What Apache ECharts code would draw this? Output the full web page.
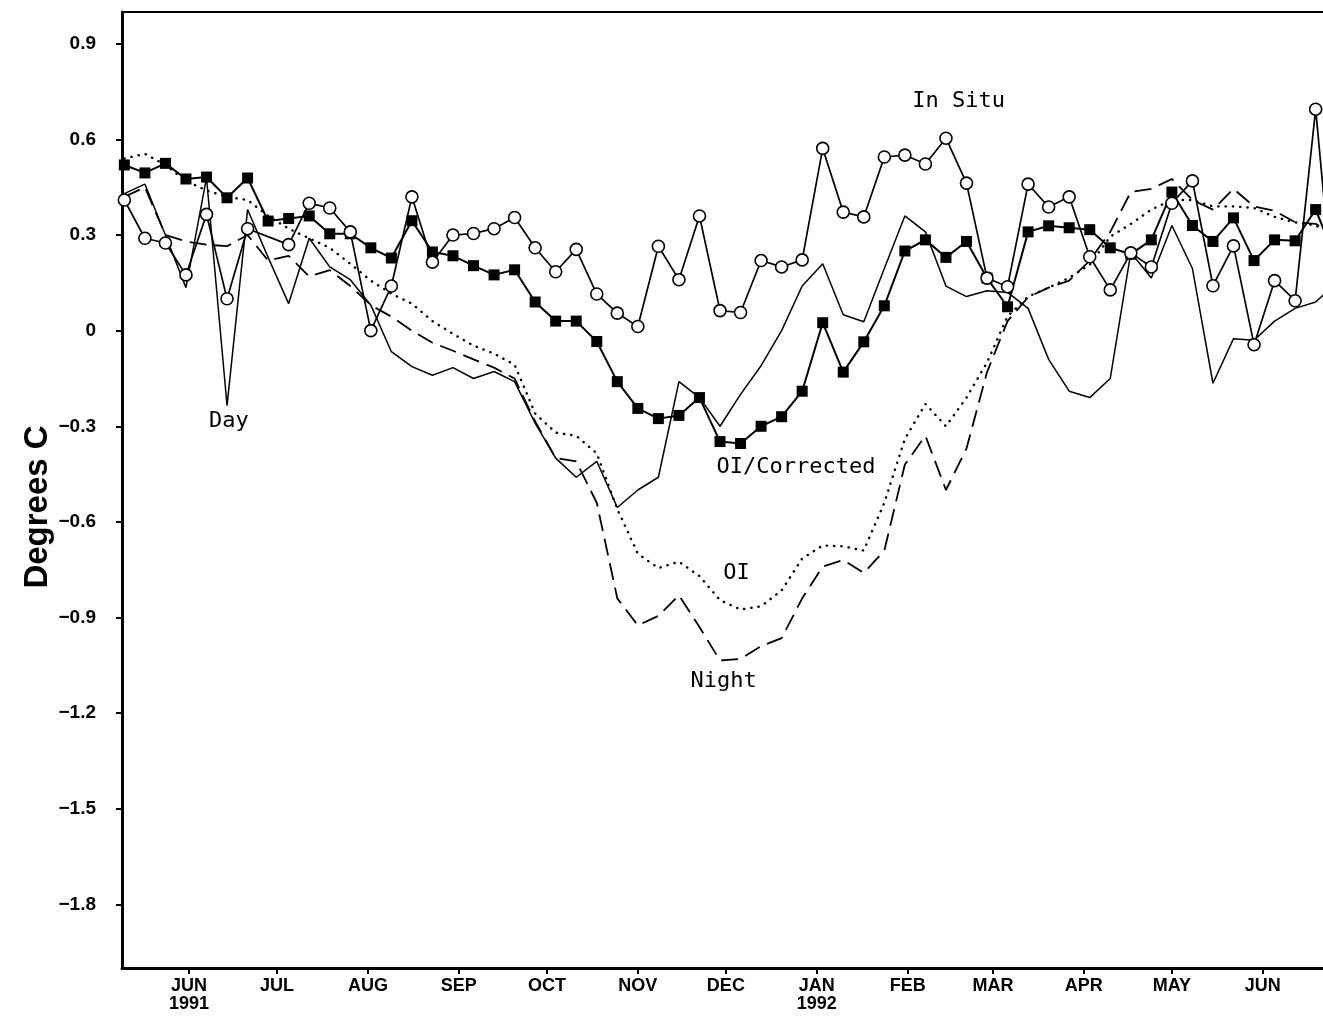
<!DOCTYPE html>
<html><head><meta charset="utf-8">
<script src="https://cdn.jsdelivr.net/npm/echarts@6/dist/echarts.min.js"></script>
<style>html,body{margin:0;padding:0;background:#fff}#c{width:1323px;height:1019px}</style>
</head><body><div id="c"></div>
<script>
// Weekly sample dates
const weekDates = [
'1991-05-10','1991-05-17','1991-05-24','1991-05-31','1991-06-07','1991-06-14','1991-06-21','1991-06-28',
'1991-07-05','1991-07-12','1991-07-19','1991-07-26','1991-08-02','1991-08-09','1991-08-16','1991-08-23','1991-08-30',
'1991-09-06','1991-09-13','1991-09-20','1991-09-27','1991-10-04','1991-10-11','1991-10-18','1991-10-25',
'1991-11-01','1991-11-08','1991-11-15','1991-11-22','1991-11-29','1991-12-06','1991-12-13','1991-12-20','1991-12-27',
'1992-01-03','1992-01-10','1992-01-17','1992-01-24','1992-01-31','1992-02-07','1992-02-14','1992-02-21','1992-02-28',
'1992-03-06','1992-03-13','1992-03-20','1992-03-27','1992-04-03','1992-04-10','1992-04-17','1992-04-24',
'1992-05-01','1992-05-08','1992-05-15','1992-05-22','1992-05-29','1992-06-05','1992-06-12','1992-06-19','1992-06-26'];
const monthTicks = ['1991-06-01','1991-07-01','1991-08-01','1991-09-01','1991-10-01','1991-11-01','1991-12-01',
'1992-01-01','1992-02-01','1992-03-01','1992-04-01','1992-05-01','1992-06-01'];
const monthLabels = ['JUN\n1991','JUL','AUG','SEP','OCT','NOV','DEC','JAN\n1992','FEB','MAR','APR','MAY','JUN'];
const yTicks = [-1.8,-1.5,-1.2,-0.9,-0.6,-0.3,0,0.3,0.6,0.9];

const inSitu = [0.41,0.29,0.275,0.175,0.365,0.10,0.32,null,0.27,0.40,0.385,0.31,0.00,0.14,0.42,0.215,0.30,
0.305,0.32,0.355,0.26,0.185,0.255,0.115,0.055,0.013,0.265,0.16,0.36,0.063,0.057,0.22,0.20,0.222,
0.572,0.372,0.357,0.545,0.551,0.523,0.604,0.463,0.165,0.138,0.46,0.388,0.42,0.232,0.128,0.244,0.20,
0.40,0.47,0.141,0.266,-0.044,0.157,0.094,0.695,0.0];
const oiCorrected = [0.52,0.495,0.525,0.476,0.482,0.417,0.479,0.344,0.352,0.36,0.304,0.304,0.26,0.228,0.345,0.247,0.235,
0.204,0.175,0.191,0.09,0.03,0.03,-0.034,-0.16,-0.244,-0.276,-0.266,-0.21,-0.348,-0.354,-0.30,-0.27,-0.19,
0.025,-0.13,-0.035,0.078,0.25,0.285,0.23,0.28,0.165,0.075,0.31,0.329,0.323,0.317,0.26,0.24,0.285,
0.435,0.33,0.28,0.354,0.22,0.285,0.282,0.38,0.22];
const dayVals = [0.43,0.46,0.30,0.135,0.48,-0.235,0.38,0.23,0.085,0.29,0.20,0.16,0.08,-0.066,-0.113,-0.14,-0.116,
-0.15,-0.128,-0.16,-0.29,-0.40,-0.46,-0.41,-0.555,-0.50,-0.46,-0.16,-0.21,-0.30,-0.20,-0.11,0.00,0.14,
0.21,0.05,0.028,0.195,0.36,0.31,0.14,0.107,0.125,0.12,0.07,-0.09,-0.19,-0.21,-0.15,0.245,0.165,
0.33,0.195,-0.165,-0.025,-0.03,0.03,0.07,0.09,0.15];
const nightVals = [0.42,0.45,0.30,0.28,0.27,0.265,0.30,0.22,0.235,0.17,0.19,0.14,0.08,0.044,0.0,-0.038,-0.063,
-0.09,-0.116,-0.15,-0.285,-0.40,-0.41,-0.54,-0.84,-0.925,-0.895,-0.83,-0.93,-1.035,-1.03,-0.99,-0.965,-0.84,
-0.74,-0.72,-0.76,-0.69,-0.42,-0.33,-0.50,-0.37,-0.13,0.03,0.105,0.135,0.157,0.22,0.31,0.435,0.445,
0.476,0.41,0.38,0.445,0.39,0.376,0.34,0.335,0.30];
const oiVals = [0.54,0.555,0.52,0.47,0.44,0.42,0.41,0.36,0.32,0.29,0.26,0.21,0.157,0.116,0.085,0.03,-0.01,
-0.047,-0.072,-0.107,-0.26,-0.32,-0.33,-0.385,-0.56,-0.70,-0.745,-0.725,-0.77,-0.846,-0.875,-0.865,-0.815,-0.715,
-0.674,-0.677,-0.69,-0.54,-0.34,-0.23,-0.30,-0.21,-0.10,0.045,0.107,0.135,0.166,0.207,0.295,0.335,0.38,
0.41,0.41,0.39,0.39,0.385,0.357,0.34,0.33,0.30];

function dayNum(s){const p=s.split('-').map(Number);return (Date.UTC(p[0],p[1]-1,p[2])-Date.UTC(1991,5,1))/864e5;}
const xs = weekDates.map(dayNum);
const tickDays = monthTicks.map(dayNum);
const labelMap = {}; tickDays.forEach((d,i)=>labelMap[d]=monthLabels[i]);
const pairs = arr => arr.map((v,i)=>[xs[i], v]);

const chart = echarts.init(document.getElementById('c'), null, {renderer:'canvas'});
const XMIN = -22.8, XMAX = 386.5;
const option = {
  animation:false,
  backgroundColor:'#fff',
  grid:{left:122, right:0, top:12, bottom:51},
  xAxis:[{
    type:'value', min:XMIN, max:XMAX, position:'bottom',
    axisLine:{show:true, onZero:false, lineStyle:{color:'#000', width:3}},
    axisTick:{show:true, length:6, customValues:tickDays, lineStyle:{color:'#000', width:2}},
    splitLine:{show:false},
    axisLabel:{customValues:tickDays, formatter:v=>labelMap[Math.round(v)]||'', margin:9,
      fontFamily:'Liberation Sans', fontWeight:'bold', fontSize:18, lineHeight:18, color:'#000'}
  },{
    type:'value', min:XMIN, max:XMAX, position:'top',
    axisLine:{show:true, onZero:false, lineStyle:{color:'#000', width:2}},
    axisTick:{show:false}, axisLabel:{show:false}, splitLine:{show:false}
  }],
  yAxis:{
    type:'value', min:-2, max:1, position:'left',
    axisLine:{show:true, onZero:false, lineStyle:{color:'#000', width:3}},
    axisTick:{show:true, length:6, customValues:yTicks, lineStyle:{color:'#000', width:2}},
    splitLine:{show:false},
    axisLabel:{customValues:yTicks, margin:26, fontFamily:'Liberation Sans', fontWeight:'bold', fontSize:19, color:'#000',
      formatter:v=>{ if (Math.abs(v)<1e-9) return '0'; return (v<0?'\u2212':'')+Math.abs(v).toFixed(1); }}
  },
  series:[
    {name:'OI', type:'line', data:pairs(oiVals), showSymbol:false, symbol:'none', clip:true,
      lineStyle:{color:'#000', width:2.4, type:[0.3,7], cap:'round'}, z:2},
    {name:'Night', type:'line', data:pairs(nightVals), symbol:'none', clip:true,
      lineStyle:{color:'#000', width:1.8, type:[17,8]}, z:2},
    {name:'Day', type:'line', data:pairs(dayVals), symbol:'none', clip:true,
      lineStyle:{color:'#000', width:1.5}, z:3},
    {name:'OI/Corrected', type:'line', data:pairs(oiCorrected), symbol:'rect', symbolSize:11, clip:true,
      lineStyle:{color:'#000', width:2}, itemStyle:{color:'#000'}, z:4},
    {name:'In Situ', type:'line', data:pairs(inSitu), connectNulls:true, symbol:'circle', symbolSize:12, clip:true,
      lineStyle:{color:'#000', width:1.7}, itemStyle:{color:'#fff', borderColor:'#000', borderWidth:1.6}, z:5}
  ]
};
chart.setOption(option);

const annotations = [
  {text:'In Situ', at:[262.3, 0.721]},
  {text:'Day', at:[13.6, -0.285]},
  {text:'OI/Corrected', at:[206.9, -0.429]},
  {text:'OI', at:[186.6, -0.762]},
  {text:'Night', at:[182.2, -1.10]}
];
const g = annotations.map(a=>{
  const p = chart.convertToPixel({gridIndex:0}, a.at);
  return {type:'text', x:p[0], y:p[1], z:10, style:{text:a.text, fill:'#000', fontFamily:'DejaVu Sans Mono',
    fontSize:22, align:'center', verticalAlign:'middle'}};
});
g.push({type:'text', x:38, y:507, rotation:Math.PI/2, z:10, style:{text:'Degrees C', fill:'#000',
  fontFamily:'Liberation Sans', fontWeight:'bold', fontSize:33, align:'center', verticalAlign:'middle'}});
chart.setOption({graphic:g});
</script></body></html>
